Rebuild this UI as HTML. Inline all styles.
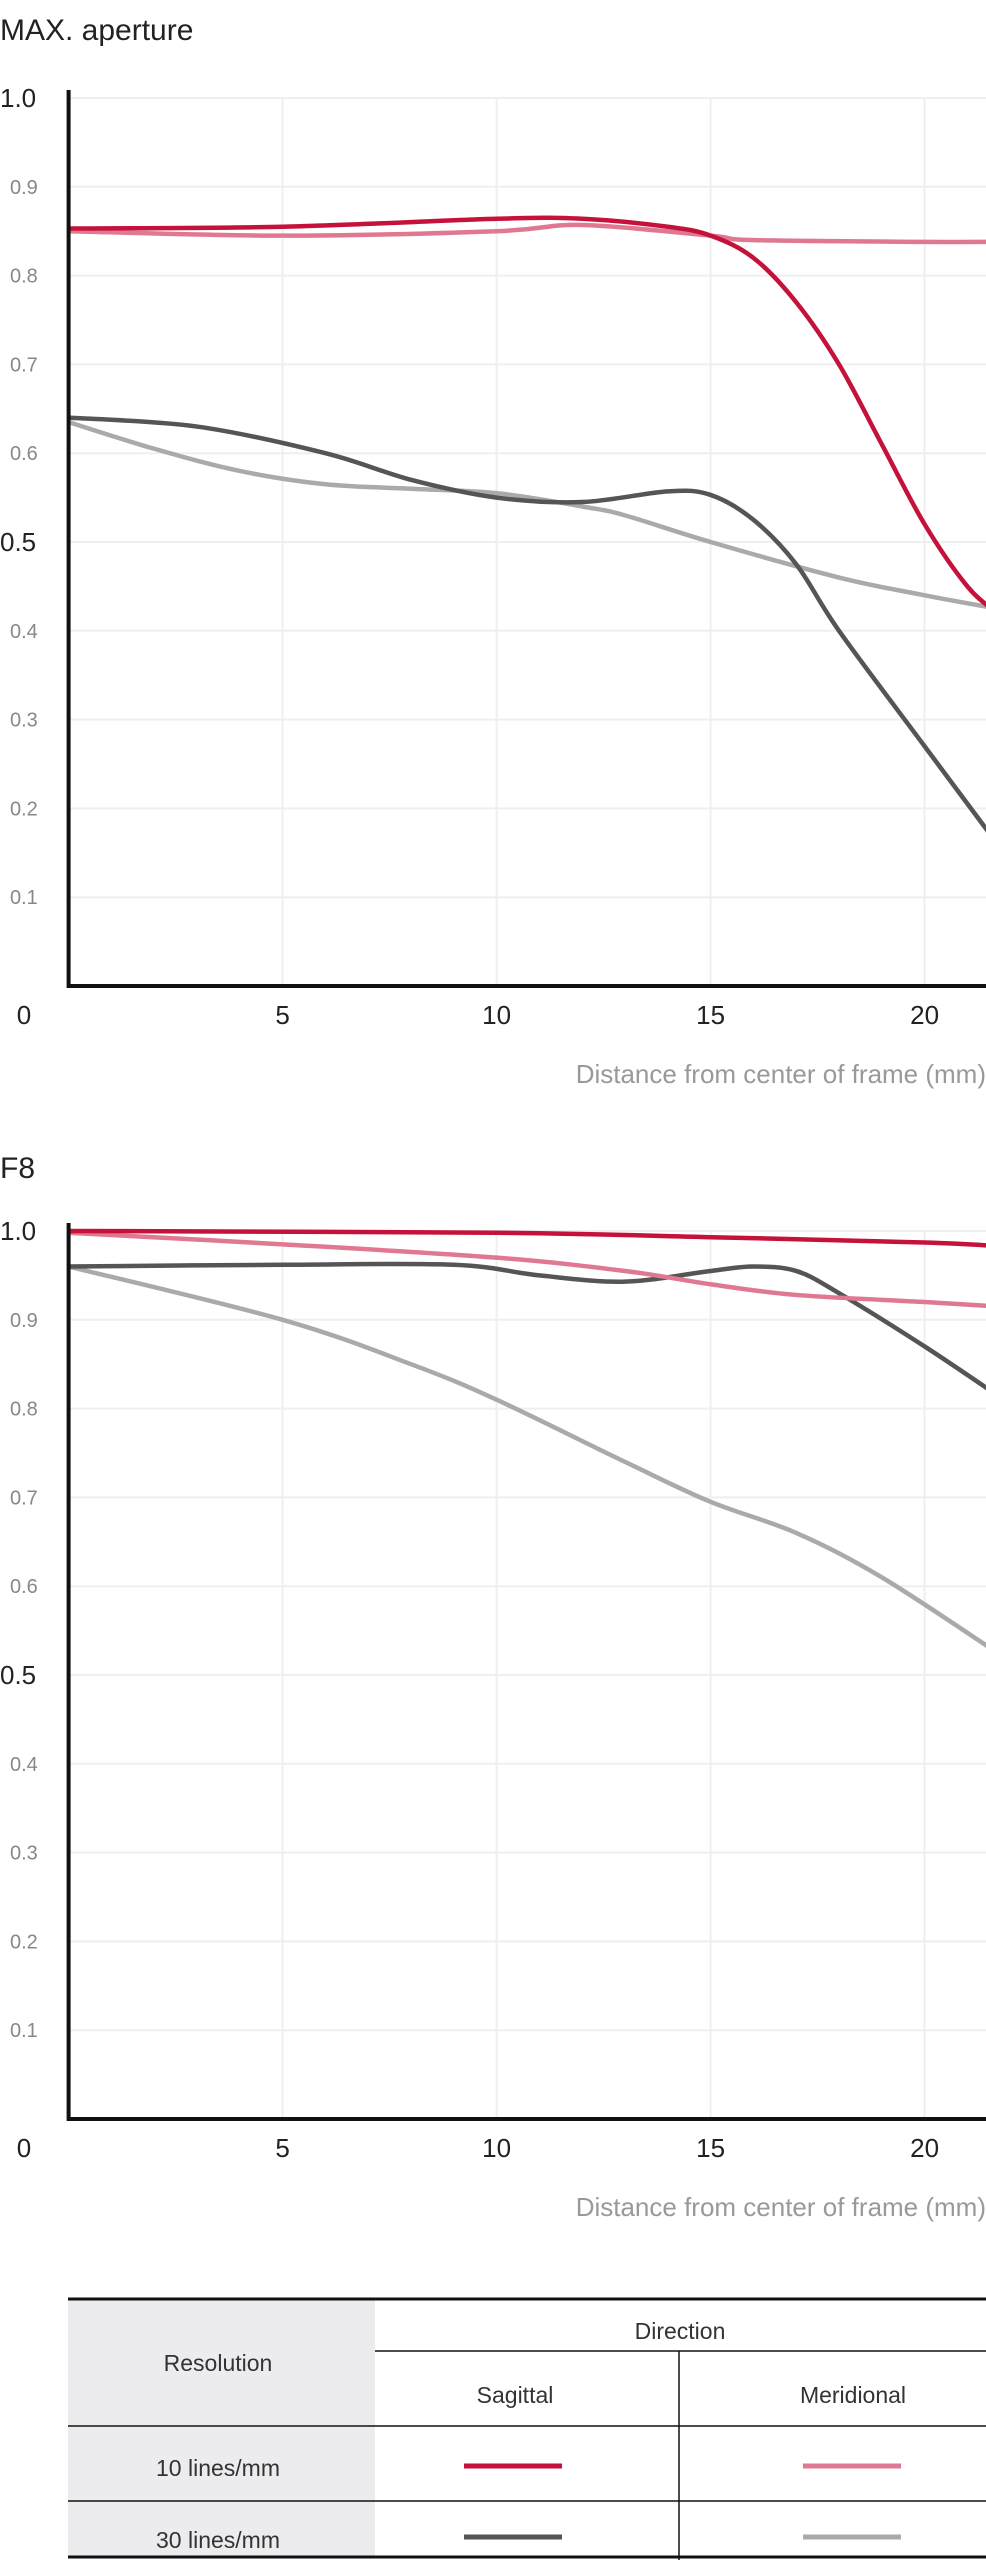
<!DOCTYPE html>
<html><head><meta charset="utf-8"><style>
body{margin:0;background:#fff;width:986px;height:2560px;overflow:hidden;font-family:"Liberation Sans",sans-serif;}
svg{position:absolute;left:0;top:0}
</style></head><body>
<svg id="s" width="986" height="2560" xmlns="http://www.w3.org/2000/svg" font-family="Liberation Sans, sans-serif">
<text x="0" y="40" font-size="30" fill="#222">MAX. aperture</text>
<text x="0" y="1178" font-size="30" fill="#222">F8</text>
<g id="c1"></g><g id="c2"></g>
<rect x="68" y="2299" width="307" height="257" fill="#ececef"/>
<line x1="68" y1="2299" x2="986" y2="2299" stroke="#111" stroke-width="3"/>
<line x1="375" y1="2351" x2="986" y2="2351" stroke="#111" stroke-width="1.5"/>
<line x1="68" y1="2426" x2="986" y2="2426" stroke="#111" stroke-width="1.5"/>
<line x1="68" y1="2501" x2="986" y2="2501" stroke="#111" stroke-width="1.5"/>
<line x1="68" y1="2557" x2="986" y2="2557" stroke="#111" stroke-width="3"/>
<line x1="679" y1="2351" x2="679" y2="2560" stroke="#111" stroke-width="1.5"/>
<g font-size="23" fill="#333" text-anchor="middle">
<text x="680" y="2339">Direction</text>
<text x="218" y="2371">Resolution</text>
<text x="515" y="2403">Sagittal</text>
<text x="853" y="2403">Meridional</text>
<text x="218" y="2476">10 lines/mm</text>
<text x="218" y="2548">30 lines/mm</text>
</g>
<line x1="464" y1="2466" x2="562" y2="2466" stroke="#c4123a" stroke-width="5"/>
<line x1="803" y1="2466" x2="901" y2="2466" stroke="#e07892" stroke-width="5"/>
<line x1="464" y1="2537" x2="562" y2="2537" stroke="#555" stroke-width="5"/>
<line x1="803" y1="2537" x2="901" y2="2537" stroke="#aaa" stroke-width="5"/>
</svg>
<script>
var NS="http://www.w3.org/2000/svg";
function el(g,t,a,txt){var e=document.createElementNS(NS,t);for(var k in a)e.setAttribute(k,a[k]);if(txt!==undefined)e.textContent=txt;g.appendChild(e);return e;}
function chart(id,top,series){
 var g=document.getElementById(id),x0=68.6,sx=42.8,sy=888,base=top+888;
 function X(v){return x0+v*sx}function Y(v){return base-v*sy}
 for(var i=1;i<=10;i++){el(g,'line',{x1:x0,x2:986,y1:Y(i/10),y2:Y(i/10),stroke:'#efefef','stroke-width':2});}
 for(var i=5;i<=20;i+=5){el(g,'line',{x1:X(i),x2:X(i),y1:Y(1),y2:base,stroke:'#efefef','stroke-width':2});}
 for(var i=1;i<=9;i++){var big=(i==5);el(g,'text',{x:big?0:10,y:Y(i/10)+(big?9:7),'font-size':big?26:20,fill:big?'#222':'#888'},'0.'+i);}
 el(g,'text',{x:0,y:Y(1)+9,'font-size':26,fill:'#222'},'1.0');
 el(g,'text',{x:24,y:base+38,'font-size':26,fill:'#222','text-anchor':'middle'},'0');
 [5,10,15,20].forEach(function(v){el(g,'text',{x:X(v),y:base+38,'font-size':26,fill:'#222','text-anchor':'middle'},v);});
 el(g,'text',{x:986,y:base+97,'font-size':26,fill:'#999','text-anchor':'end'},'Distance from center of frame (mm)');
 series.forEach(function(s){
  var p=s.p.map(function(q){return [X(q[0]),Y(q[1])]});
  var d='M'+p[0][0]+','+p[0][1];
  for(var i=0;i<p.length-1;i++){var a=p[i-1]||p[i],b=p[i],c=p[i+1],e=p[i+2]||c;
   d+=' C'+(b[0]+(c[0]-a[0])/6)+','+(b[1]+(c[1]-a[1])/6)+' '+(c[0]-(e[0]-b[0])/6)+','+(c[1]-(e[1]-b[1])/6)+' '+c[0]+','+c[1];}
  el(g,'path',{d:d,fill:'none',stroke:s.c,'stroke-width':4.5,'stroke-linejoin':'round'});
 });
 el(g,'line',{x1:x0,x2:986,y1:base,y2:base,stroke:'#111','stroke-width':4});
 el(g,'line',{x1:x0,x2:x0,y1:top-8,y2:base+2,stroke:'#111','stroke-width':4});
}
chart('c1',98,[
 {c:'#aaa',p:[[0,.635],[2,.605],[4,.58],[6,.565],[8,.56],[10,.555],[12,.54],[13,.53],[15,.50],[18,.46],[20,.44],[21.7,.425]]},
 {c:'#555',p:[[0,.64],[3,.63],[6,.60],[8,.57],[10,.55],[12,.545],[14,.557],[15,.553],[16,.525],[17,.475],[18,.40],[20,.27],[21.7,.16]]},
 {c:'#e07892',p:[[0,.85],[5,.845],[10,.85],[12,.857],[15,.845],[16,.84],[20,.838],[21.7,.838]]},
 {c:'#c4123a',p:[[0,.853],[5,.855],[10,.864],[12,.864],[14,.855],[15,.845],[16,.82],[17,.77],[18,.70],[19,.61],[20,.52],[21,.45],[21.7,.42]]}
]);
chart('c2',1231,[
 {c:'#aaa',p:[[0,.96],[5,.90],[8,.85],[10,.81],[13,.74],[15,.695],[17,.66],[19,.61],[21.7,.525]]},
 {c:'#555',p:[[0,.96],[5,.962],[9,.962],[11,.95],[13,.943],[15,.955],[16,.96],[17,.955],[18,.93],[20,.87],[21.7,.815]]},
 {c:'#e07892',p:[[0,.998],[5,.985],[10,.97],[13,.955],[15,.94],[17,.928],[20,.92],[21.7,.915]]},
 {c:'#c4123a',p:[[0,1.0],[10,.998],[15,.993],[20,.987],[21.7,.983]]}
]);
</script>
</body></html>
